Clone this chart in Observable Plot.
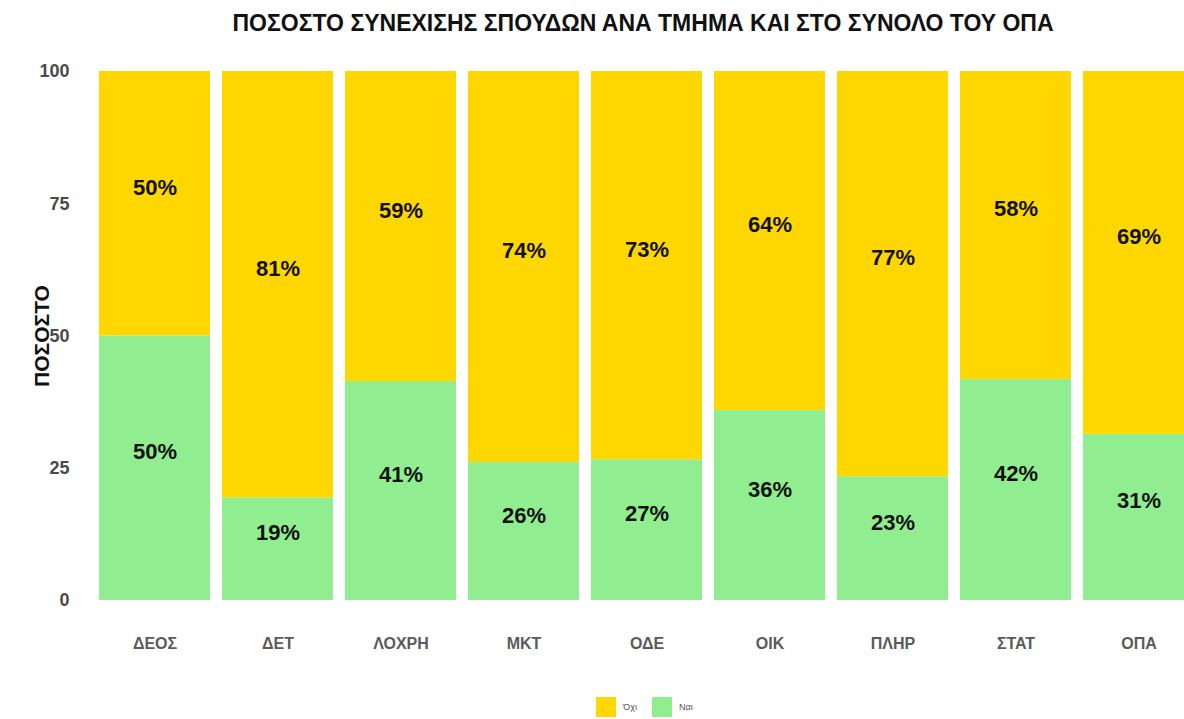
<!DOCTYPE html>
<html>
<head>
<meta charset="utf-8">
<script src="https://cdn.jsdelivr.net/npm/d3@7"></script>
<script src="https://cdn.jsdelivr.net/npm/@observablehq/plot@0.6"></script>
<style>
  html, body { margin: 0; padding: 0; background: #fff; overflow: hidden; width: 1184px; height: 719px; }
  #title { height: 50px; line-height: 46px; text-align: center; font-family: "Liberation Sans", Arial, sans-serif; font-weight: bold; font-size: 23px; color: #111; padding-left: 102px; box-sizing: border-box; white-space: nowrap; }
  #legend { display: flex; justify-content: center; align-items: center; gap: 0; font-family: "Liberation Sans", Arial, sans-serif; font-size: 9px; color: #555; padding-left: 120px; padding-top: 5px; box-sizing: border-box; height: 29px; }
  .sw { width: 20px; height: 20px; display: inline-block; margin-right: 7px; }
  .lab { margin-right: 15px; }
</style>
</head>
<body>
<div id="title">ΠΟΣΟΣΤΟ ΣΥΝΕΧΙΣΗΣ ΣΠΟΥΔΩΝ ΑΝΑ ΤΜΗΜΑ ΚΑΙ ΣΤΟ ΣΥΝΟΛΟ ΤΟΥ ΟΠΑ</div>
<div id="chart"></div>
<div id="legend"></div>
<script>
const categories = ["ΔΕΟΣ", "ΔΕΤ", "ΛΟΧΡΗ", "ΜΚΤ", "ΟΔΕ", "ΟΙΚ", "ΠΛΗΡ", "ΣΤΑΤ", "ΟΠΑ"];
const answers = ["Όχι", "Ναι"];
const colors = ["#FFD700", "#90EE90"];
const nai = [50.0, 19.4, 41.4, 26.1, 26.6, 35.9, 23.4, 41.8, 31.4];
const oxi = [50.0, 80.6, 58.6, 73.9, 73.4, 64.1, 76.6, 58.2, 68.6];
const yTicks = [0, 25, 50, 75, 100];
const yLabel = "ΠΟΣΟΣΤΟ";

const table = [];
categories.forEach((c, i) => {
  table.push({cat: c, answer: "Ναι", value: nai[i]});
  table.push({cat: c, answer: "Όχι", value: oxi[i]});
});

const plot = Plot.plot({
  width: 1184,
  height: 640,
  marginLeft: 98,
  marginRight: -10,
  marginTop: 21,
  marginBottom: 90,
  style: {fontFamily: "'Liberation Sans', Arial, sans-serif", overflow: "visible"},
  x: {domain: categories, paddingInner: 0.1, paddingOuter: 0, label: null, axis: null},
  y: {domain: [0, 100], label: null, axis: null},
  color: {domain: answers, range: colors},
  marks: [
    Plot.barY(table, Plot.stackY({x: "cat", y: "value", fill: "answer"})),
    Plot.text(table, Plot.stackY({x: "cat", y: "value", text: d => Math.round(d.value) + "%", dy: -16, fontSize: 22, fontWeight: "bold", fill: "#111"})),
    Plot.axisY(yTicks, {tickSize: 0, tickPadding: 29, fontSize: 18, fontWeight: "bold", fill: "#4a4a4a", label: null}),
    Plot.axisX({tickSize: 0, tickPadding: 37, fontSize: 16, fontWeight: "bold", fill: "#5a5a5a", label: null}),
    Plot.text([yLabel], {frameAnchor: "left", textAnchor: "middle", rotate: -90, dx: -56, fontSize: 21, fontWeight: "bold", fill: "#111"})
  ]
});
document.getElementById("chart").appendChild(plot);

const legend = document.getElementById("legend");
answers.forEach((a, i) => {
  const sw = document.createElement("span");
  sw.className = "sw";
  sw.style.background = colors[i];
  legend.appendChild(sw);
  const t = document.createElement("span");
  t.className = "lab";
  t.textContent = a;
  legend.appendChild(t);
});
</script>
</body>
</html>
